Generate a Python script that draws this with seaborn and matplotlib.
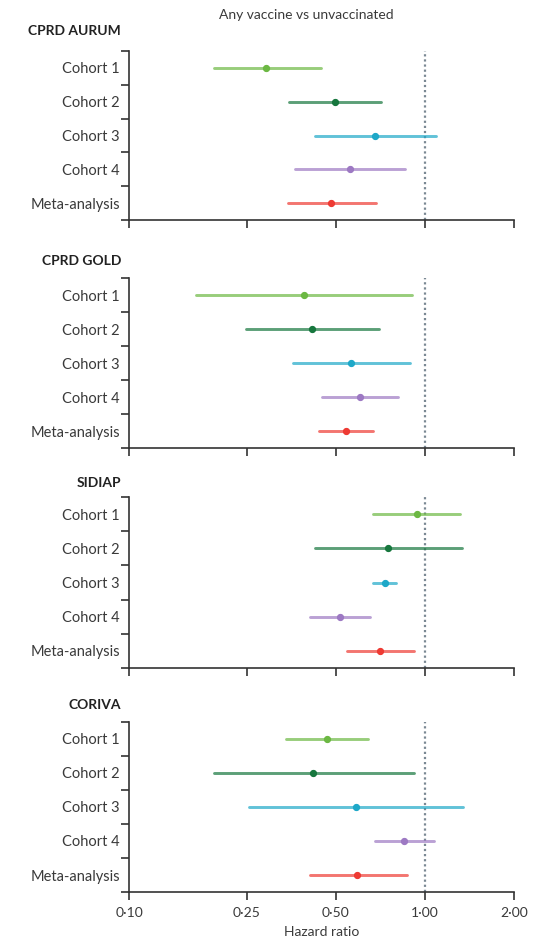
import numpy as np
import pandas as pd
import matplotlib.pyplot as plt
import seaborn as sns
from matplotlib.ticker import NullLocator

# dati (hazard ratio con IC 95%)
cohorts = ["Cohort 1", "Cohort 2", "Cohort 3", "Cohort 4", "Meta-analysis"]
panels = ["CPRD AURUM", "CPRD GOLD", "SIDIAP", "CORIVA"]

aurum_hr = [0.29, 0.495, 0.68, 0.56, 0.48]
aurum_lo = [0.193, 0.346, 0.424, 0.363, 0.344]
aurum_hi = [0.445, 0.712, 1.09, 0.858, 0.683]

gold_hr = [0.39, 0.414, 0.563, 0.605, 0.54]
gold_lo = [0.168, 0.248, 0.357, 0.448, 0.438]
gold_hi = [0.907, 0.70, 0.89, 0.81, 0.67]

sidiap_hr = [0.94, 0.75, 0.735, 0.515, 0.705]
sidiap_lo = [0.67, 0.424, 0.67, 0.41, 0.545]
sidiap_hi = [1.31, 1.33, 0.80, 0.65, 0.915]

coriva_hr = [0.467, 0.42, 0.585, 0.85, 0.59]
coriva_lo = [0.338, 0.194, 0.255, 0.68, 0.41]
coriva_hi = [0.64, 0.915, 1.34, 1.075, 0.87]

x_ticks = [0.10, 0.25, 0.50, 1.00, 2.00]
x_labels = ["0·10", "0·25", "0·50", "1·00", "2·00"]

colori = ["#6cb843", "#17773e", "#1ea8c8", "#9d79c3", "#ee3a33"]

valori = {
    "CPRD AURUM": (aurum_lo, aurum_hr, aurum_hi),
    "CPRD GOLD": (gold_lo, gold_hr, gold_hi),
    "SIDIAP": (sidiap_lo, sidiap_hr, sidiap_hi),
    "CORIVA": (coriva_lo, coriva_hr, coriva_hi),
}

# tabella lunga: lo, hr, hi per ogni riga -> mediana = hr, intervallo min-max = IC
righe = []
for p in panels:
    lo, hr, hi = valori[p]
    for i, c in enumerate(cohorts):
        for v in (lo[i], hr[i], hi[i]):
            righe.append({"panel": p, "cohort": c, "hr": v})
df = pd.DataFrame(righe)

sns.set_style("ticks")
plt.rcParams["font.family"] = ["Lato", "DejaVu Sans"]

fig = plt.figure(figsize=(5.39, 9.44), dpi=100)
W, H = 539, 944
left, right = 129, 514
# (top, bottom) in pixel per ogni pannello
limiti = [(51, 220), (278, 448), (497, 668), (722, 892)]
titoli_y = [31, 261, 483, 705]

testo = "#3a3a3a"
assi = "#333333"

for k, p in enumerate(panels):
    top, bot = limiti[k]
    ax = fig.add_axes([left / W, 1 - bot / H, (right - left) / W, (bot - top) / H])
    sub = df[df["panel"] == p]
    sns.pointplot(
        data=sub,
        x="hr",
        y="cohort",
        hue="cohort",
        order=cohorts,
        hue_order=cohorts,
        palette=colori,
        estimator="median",
        errorbar=("pi", 100),
        log_scale=True,
        orient="h",
        markersize=3.2,
        err_kws={"linewidth": 2.1, "alpha": 0.7},
        legend=False,
        ax=ax,
    )
    ax.axvline(1.0, color="#7a8893", linestyle=(0, (1, 1.3)), lw=1.6, zorder=0)

    ax.set_xlim(0.1, 2.0)
    ax.set_ylim(4.5, -0.5)
    ax.set_xticks(x_ticks)
    ax.xaxis.set_minor_locator(NullLocator())
    if k == len(panels) - 1:
        ax.set_xticklabels(x_labels)
        ax.set_xlabel("Hazard ratio", fontsize=10, color=testo, labelpad=5)
    else:
        ax.set_xticklabels([])
        ax.set_xlabel("")

    # tacche ai confini delle righe, etichette al centro
    ax.set_yticks(np.arange(-0.5, 5, 1))
    ax.set_yticklabels([])
    ax.set_yticks(range(len(cohorts)), labels=cohorts, minor=True)
    ax.set_ylabel("")
    ax.tick_params(axis="y", which="major", length=6, width=1.2, color=assi)
    ax.tick_params(axis="y", which="minor", length=0, pad=6.5, labelsize=10.5, labelcolor=testo)
    ax.tick_params(axis="x", length=6, width=1.2, color=assi, labelsize=10, labelcolor=testo, pad=5)

    sns.despine(ax=ax)
    for s in ["left", "bottom"]:
        ax.spines[s].set_linewidth(1.2)
        ax.spines[s].set_color(assi)

    fig.text(121 / W, 1 - titoli_y[k] / H, p, ha="right", va="center",
             fontsize=10, fontweight="bold", color="#222222")

fig.text(306 / W, 1 - 15 / H, "Any vaccine vs unvaccinated", ha="center", va="center",
         fontsize=10, color=testo)

plt.savefig("out.png", dpi=100)
plt.close()
